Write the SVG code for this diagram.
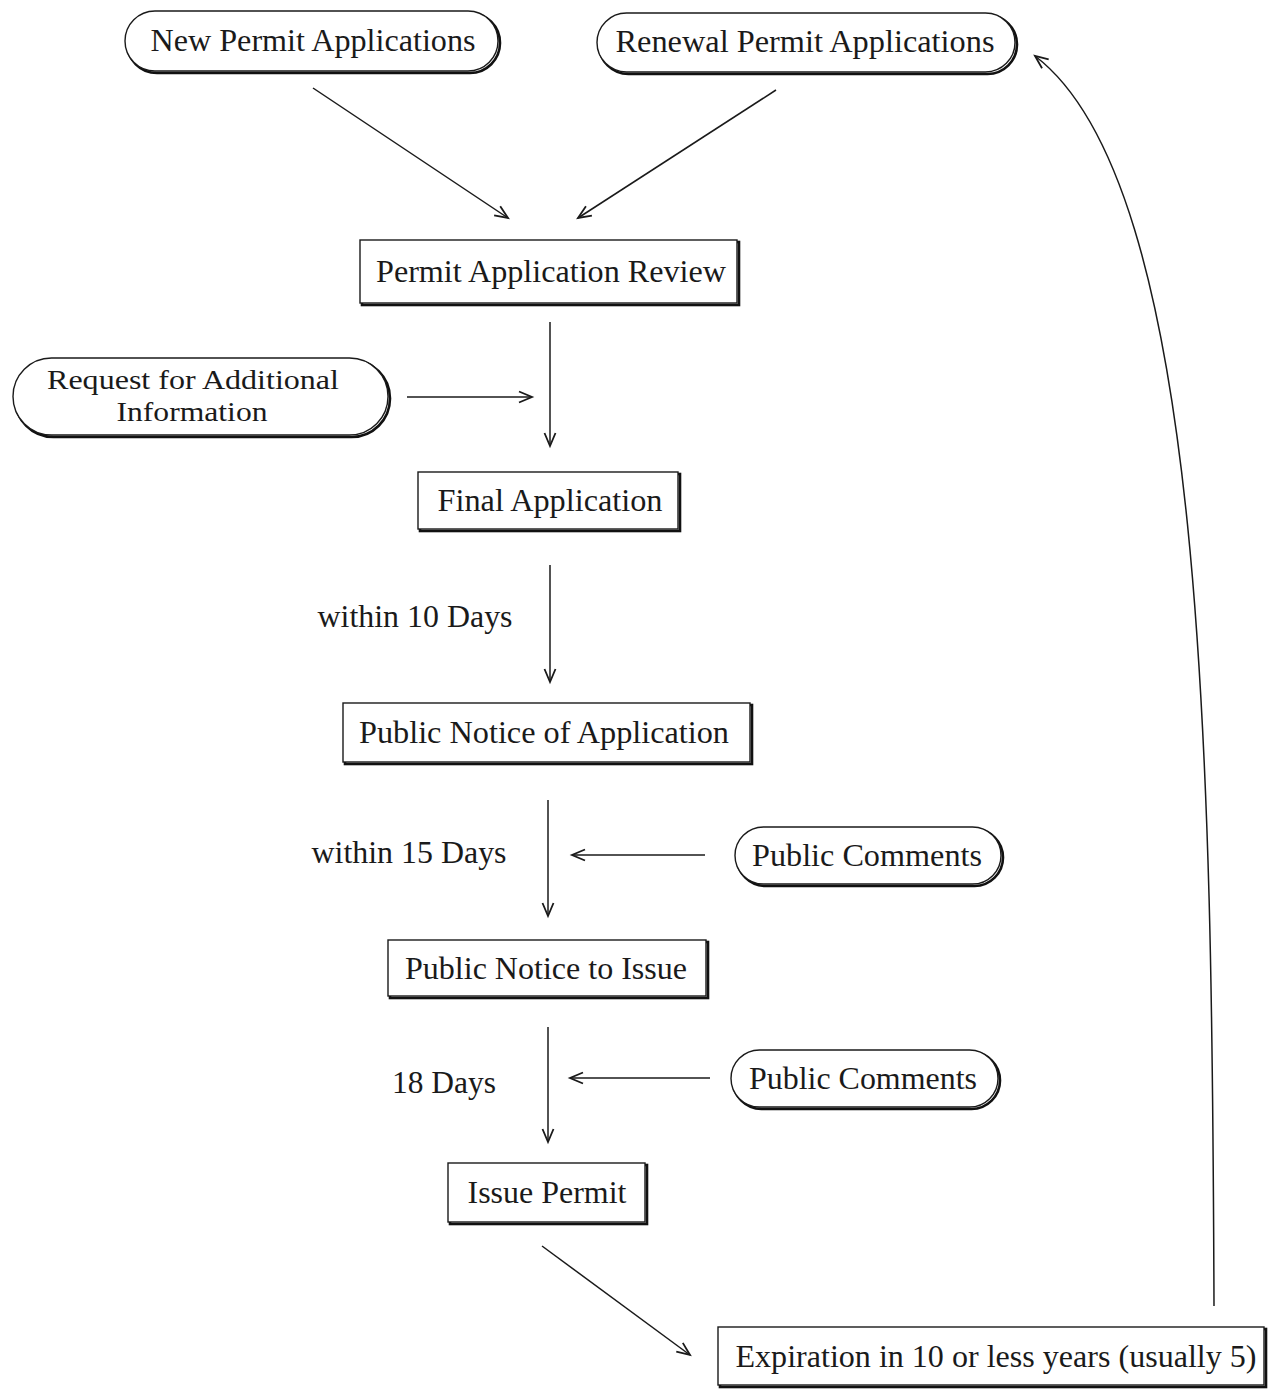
<svg xmlns="http://www.w3.org/2000/svg" width="1269" height="1389" viewBox="0 0 1269 1389">
<style>
  .shape { fill: #fff; stroke: #1a1a1a; stroke-width: 1.4; }
  .shadow { fill: none; stroke: #111; stroke-width: 2.6; }
  .t { font-family: "Liberation Serif", "Times New Roman", serif; font-size: 31px; fill: #1a1a1a; text-anchor: middle; }
  .t2 { font-size: 28px; }
  .c { fill: none; stroke: #1a1a1a; stroke-width: 1.5; marker-end: url(#arr); }
</style>
<defs>
  <marker id="arr" markerUnits="userSpaceOnUse" markerWidth="30" markerHeight="30" refX="0" refY="0" viewBox="-15 -15 30 30" orient="auto" overflow="visible">
    <path d="M-13,-5.5 L0,0 L-13,5.5" fill="none" stroke="#1a1a1a" stroke-width="1.8"/>
  </marker>
</defs>
<rect width="1269" height="1389" fill="#fff"/>

<g id="connectors">
  <line class="c" x1="313" y1="88" x2="508" y2="218"/>
  <line class="c" x1="776" y1="90" x2="578" y2="218"/>
  <line class="c" x1="550" y1="322" x2="550" y2="446"/>
  <line class="c" x1="407" y1="397" x2="532" y2="397"/>
  <line class="c" x1="550" y1="565" x2="550" y2="682"/>
  <line class="c" x1="548" y1="800" x2="548" y2="916"/>
  <line class="c" x1="705" y1="855" x2="572" y2="855"/>
  <line class="c" x1="548" y1="1027" x2="548" y2="1142"/>
  <line class="c" x1="710" y1="1078" x2="570" y2="1078"/>
  <line class="c" x1="542" y1="1246" x2="690" y2="1355"/>
  <path class="c" d="M1214,1306 C1212,760 1205,185 1035,56"/>
</g>

<g id="new-permit">
  <rect class="shadow" x="127" y="13" width="373" height="60" rx="30"/>
  <rect class="shape" x="125" y="11" width="373" height="60" rx="30"/>
  <text class="t" x="313" y="51" textLength="325" lengthAdjust="spacingAndGlyphs">New Permit Applications</text>
</g>
<g id="renewal-permit">
  <rect class="shadow" x="599" y="15" width="418" height="59" rx="29.5"/>
  <rect class="shape" x="597" y="13" width="418" height="59" rx="29.5"/>
  <text class="t" x="805" y="52" textLength="379" lengthAdjust="spacingAndGlyphs">Renewal Permit Applications</text>
</g>
<g id="review">
  <rect class="shadow" x="362" y="242" width="377" height="63"/>
  <rect class="shape" x="360" y="240" width="377" height="63"/>
  <text class="t" x="551" y="282" textLength="350" lengthAdjust="spacingAndGlyphs">Permit Application Review</text>
</g>
<g id="request-info">
  <rect class="shadow" x="15" y="360" width="375" height="77" rx="38.5"/>
  <rect class="shape" x="13" y="358" width="375" height="77" rx="38.5"/>
  <text class="t t2" x="193" y="389" textLength="292" lengthAdjust="spacingAndGlyphs">Request for Additional</text>
  <text class="t t2" x="192" y="421" textLength="151" lengthAdjust="spacingAndGlyphs">Information</text>
</g>
<g id="final-application">
  <rect class="shadow" x="420" y="474" width="260" height="57"/>
  <rect class="shape" x="418" y="472" width="260" height="57"/>
  <text class="t" x="550" y="511" textLength="225" lengthAdjust="spacingAndGlyphs">Final Application</text>
</g>
<g id="public-notice-application">
  <rect class="shadow" x="345" y="705" width="407" height="59"/>
  <rect class="shape" x="343" y="703" width="407" height="59"/>
  <text class="t" x="544" y="743" textLength="370" lengthAdjust="spacingAndGlyphs">Public Notice of Application</text>
</g>
<g id="public-comments-1">
  <rect class="shadow" x="737" y="829" width="266" height="57" rx="28.5"/>
  <rect class="shape" x="735" y="827" width="266" height="57" rx="28.5"/>
  <text class="t" x="867" y="866" textLength="230" lengthAdjust="spacingAndGlyphs">Public Comments</text>
</g>
<g id="public-notice-issue">
  <rect class="shadow" x="390" y="942" width="318" height="56"/>
  <rect class="shape" x="388" y="940" width="318" height="56"/>
  <text class="t" x="546" y="979" textLength="282" lengthAdjust="spacingAndGlyphs">Public Notice to Issue</text>
</g>
<g id="public-comments-2">
  <rect class="shadow" x="733" y="1052" width="267" height="57" rx="28.5"/>
  <rect class="shape" x="731" y="1050" width="267" height="57" rx="28.5"/>
  <text class="t" x="863" y="1089" textLength="228" lengthAdjust="spacingAndGlyphs">Public Comments</text>
</g>
<g id="issue-permit">
  <rect class="shadow" x="450" y="1165" width="197" height="59"/>
  <rect class="shape" x="448" y="1163" width="197" height="59"/>
  <text class="t" x="547" y="1203" textLength="159" lengthAdjust="spacingAndGlyphs">Issue Permit</text>
</g>
<g id="expiration">
  <rect class="shadow" x="720" y="1329" width="546" height="58"/>
  <rect class="shape" x="718" y="1327" width="546" height="58"/>
  <text class="t" x="996" y="1367" textLength="521" lengthAdjust="spacingAndGlyphs">Expiration in 10 or less years (usually 5)</text>
</g>

<g id="labels">
  <text class="t" x="415" y="627" textLength="195" lengthAdjust="spacingAndGlyphs">within 10 Days</text>
  <text class="t" x="409" y="863" textLength="195" lengthAdjust="spacingAndGlyphs">within 15 Days</text>
  <text class="t" x="444" y="1093" textLength="104" lengthAdjust="spacingAndGlyphs">18 Days</text>
</g>
</svg>
